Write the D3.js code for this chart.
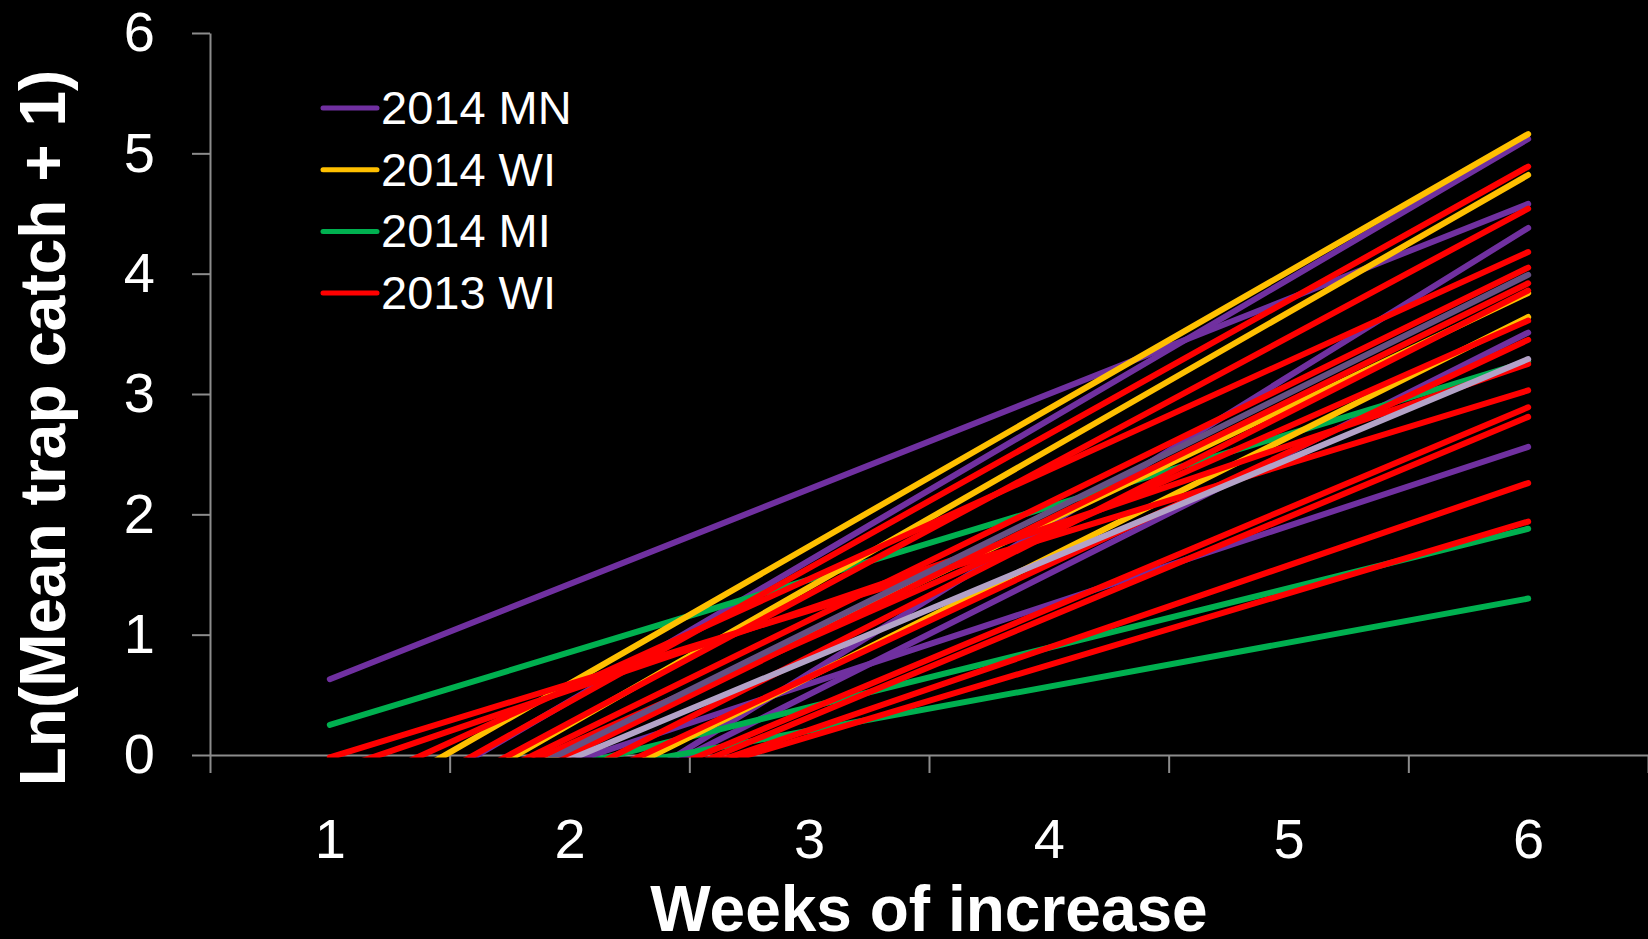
<!DOCTYPE html>
<html>
<head>
<meta charset="utf-8">
<script src="https://cdn.jsdelivr.net/npm/d3@7"></script>
<style>
  body { margin: 0; background: #000; }
  svg { display: block; background: #000; font-family: "Liberation Sans", Arial, sans-serif; }
  .axis path, .axis line { stroke: #8c8c8c; stroke-width: 2; }
  .axis text { fill: #fff; font-size: 56px; }
  .title { fill: #fff; font-size: 64px; font-weight: bold; }
  .legendText { fill: #fff; font-size: 47px; }
</style>
</head>
<body>
<svg class="chart_svg" width="1648" height="939"></svg>
<script>
// weeks on the x axis, ticks on y
var weeks = [1, 2, 3, 4, 5, 6];
var yTicks = [0, 1, 2, 3, 4, 5, 6];

var seriesNames = ["2014 MN", "2014 WI", "2014 MI", "2013 WI"];
var seriesColours = ["#7030a0", "#ffc000", "#00b050", "#ff0000"];

// fitted value at week 1 and week 6 for each trap line
var mnWeek1 = [0.63, -0.72, -1.79, -1.50, -0.72];
var mnWeek6 = [4.58, 5.12, 4.38, 3.51, 2.56];

var wi14Week1 = [-0.55, -0.89, -0.90, -1.35];
var wi14Week6 = [5.16, 4.82, 3.84, 3.64];

var miWeek1 = [0.25, -0.59, -0.53];
var miWeek6 = [3.27, 1.88, 1.30];

var wi13Week1 = [-0.02, -0.14, -0.35, -0.67, -0.80, -0.83, -0.98, -1.21, -0.79, -1.22, -1.30, -1.35, -1.16, -1.04];
var wi13Week6 = [3.03, 3.25, 4.18, 4.89, 4.54, 4.05, 3.92, 3.86, 3.61, 3.45, 2.89, 2.81, 2.26, 1.94];

// two extra lines not in the legend
var otherWeek1 = [-0.94, -0.87];
var otherWeek6 = [3.99, 3.29];
var otherColours = ["#655083", "#b3a2c7"];

var svg = d3.select(".chart_svg"),
    margin = {top: 33, right: 0, bottom: 184, left: 210},
    width = +svg.attr("width") - margin.left - margin.right,
    height = +svg.attr("height") - margin.top - margin.bottom;

var x = d3.scaleLinear().domain([0.5, 6.5]).range([0, width]);
var y = d3.scaleLinear().domain([0, 6]).range([height, 0]);

var g = svg.append("g")
    .attr("transform", "translate(" + margin.left + "," + margin.top + ")");

svg.append("defs").append("clipPath")
    .attr("id", "plotclip")
  .append("rect")
    .attr("x", 0)
    .attr("y", -40)
    .attr("width", width)
    .attr("height", height + 42.5);

// x axis: boundary ticks + centred labels
g.append("g")
    .attr("class", "axis")
    .attr("transform", "translate(0," + height + ")")
    .call(d3.axisBottom(x).tickValues(d3.range(0.5, 7, 1)).tickSize(18).tickSizeOuter(0).tickFormat(""));

g.append("g")
    .attr("class", "axis")
    .attr("transform", "translate(0," + height + ")")
    .call(d3.axisBottom(x).tickValues(weeks).tickSize(0).tickPadding(63).tickFormat(d3.format("d")))
    .call(function(a) { a.select(".domain").remove(); });

g.append("g")
    .attr("class", "axis")
    .call(d3.axisLeft(y).tickValues(yTicks).tickSize(18).tickSizeOuter(0).tickPadding(37).tickFormat(d3.format("d")));

// lines
var line = d3.line()
    .x(function(d) { return x(d.week); })
    .y(function(d) { return y(d.value); });

function drawGroup(w1, w6, colourFn) {
  var rows = w1.map(function(v, i) { return [{week: weeks[0], value: v}, {week: weeks[5], value: w6[i]}]; });
  g.append("g")
      .attr("clip-path", "url(#plotclip)")
    .selectAll("path")
    .data(rows)
    .enter().append("path")
      .attr("d", line)
      .attr("fill", "none")
      .attr("stroke", function(d, i) { return colourFn(i); })
      .attr("stroke-width", 6)
      .attr("stroke-linecap", "round");
}

drawGroup(mnWeek1, mnWeek6, function() { return seriesColours[0]; });
drawGroup(miWeek1, miWeek6, function() { return seriesColours[2]; });
drawGroup(wi14Week1, wi14Week6, function() { return seriesColours[1]; });
drawGroup(wi13Week1, wi13Week6, function() { return seriesColours[3]; });
drawGroup(otherWeek1, otherWeek6, function(i) { return otherColours[i]; });

// legend
var legend = svg.append("g")
    .attr("transform", "translate(323,108)");

var item = legend.selectAll("g")
    .data(seriesNames)
    .enter().append("g")
    .attr("transform", function(d, i) { return "translate(0," + (i * 61.7) + ")"; });

item.append("line")
    .attr("x1", 0).attr("x2", 54)
    .attr("y1", 0).attr("y2", 0)
    .attr("stroke", function(d, i) { return seriesColours[i]; })
    .attr("stroke-width", 5)
    .attr("stroke-linecap", "round");

item.append("text")
    .attr("class", "legendText")
    .attr("x", 58)
    .attr("y", 16)
    .text(function(d) { return d; });

// axis titles
svg.append("text")
    .attr("class", "title")
    .attr("x", margin.left + width / 2)
    .attr("y", 931)
    .attr("text-anchor", "middle")
    .text("Weeks of increase");

svg.append("text")
    .attr("class", "title")
    .attr("transform", "translate(65,428) rotate(-90)")
    .attr("text-anchor", "middle")
    .text("Ln(Mean trap catch + 1)");
</script>
</body>
</html>
